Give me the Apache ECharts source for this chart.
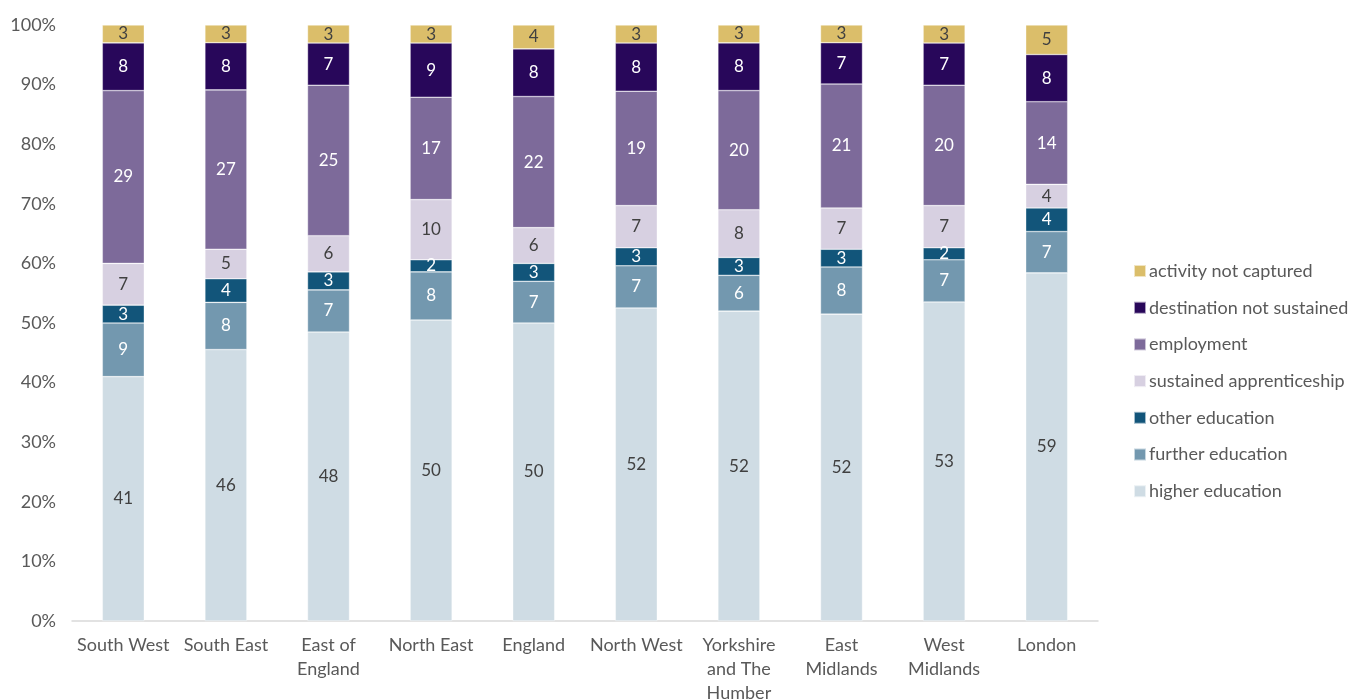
<!DOCTYPE html>
<html>
<head>
<meta charset="utf-8">
<script src="https://cdn.jsdelivr.net/npm/echarts@6/dist/echarts.min.js"></script>
<style>
  html, body { margin: 0; padding: 0; background: #fff; }
  #chart { width: 1351px; height: 700px; }
</style>
</head>
<body>
<div id="chart"></div>
<script>
// Regions, in display order
const regions = ['South West', 'South East', 'East of\nEngland', 'North East', 'England',
  'North West', 'Yorkshire\nand The\nHumber', 'East\nMidlands', 'West\nMidlands', 'London'];

// Destination shares (%), one array per destination
const higherEducation        = [41, 46, 48, 50, 50, 52, 52, 52, 53, 59];
const furtherEducation       = [9, 8, 7, 8, 7, 7, 6, 8, 7, 7];
const otherEducation         = [3, 4, 3, 2, 3, 3, 3, 3, 2, 4];
const sustainedApprenticeship = [7, 5, 6, 10, 6, 7, 8, 7, 7, 4];
const employment             = [29, 27, 25, 17, 22, 19, 20, 21, 20, 14];
const destinationNotSustained = [8, 8, 7, 9, 8, 8, 8, 7, 7, 8];
const activityNotCaptured    = [3, 3, 3, 3, 4, 3, 3, 3, 3, 5];

// Y axis tick labels
const yTicks = ['0%', '10%', '20%', '30%', '40%', '50%', '60%', '70%', '80%', '90%', '100%'];

const FONT = 'Lato, "Liberation Sans", sans-serif';

const layers = [
  { name: 'higher education', data: higherEducation, color: '#CFDCE4', text: '#404040' },
  { name: 'further education', data: furtherEducation, color: '#7398AF', text: '#ffffff' },
  { name: 'other education', data: otherEducation, color: '#12557A', text: '#ffffff' },
  { name: 'sustained apprenticeship', data: sustainedApprenticeship, color: '#D7D0E1', text: '#404040' },
  { name: 'employment', data: employment, color: '#7D6A9A', text: '#ffffff' },
  { name: 'destination not sustained', data: destinationNotSustained, color: '#28075A', text: '#ffffff' },
  { name: 'activity not captured', data: activityNotCaptured, color: '#DBBE6A', text: '#404040' }
];

// Each column is drawn as a 100% stack: totals per region
const totals = regions.map((_, i) => layers.reduce((s, l) => s + l.data[i], 0));

const series = layers.map(l => ({
  name: l.name,
  type: 'bar',
  stack: 'total',
  barWidth: 42,
  itemStyle: { color: l.color, borderColor: 'rgba(255,255,255,0.6)', borderWidth: 0.6 },
  label: {
    show: true,
    position: 'inside',
    color: l.text,
    fontFamily: FONT,
    fontSize: 17,
    formatter: p => String(l.data[p.dataIndex])
  },
  emphasis: { disabled: true },
  data: l.data.map((v, i) => v / totals[i] * 100)
}));

const chart = echarts.init(document.getElementById('chart'));
chart.setOption({
  animation: false,
  textStyle: { fontFamily: FONT },
  grid: { left: 72, right: 253, top: 25, bottom: 79, containLabel: false, outerBoundsMode: 'none' },
  legend: {
    orient: 'vertical',
    left: 1128,
    top: 257,
    icon: 'rect',
    itemWidth: 12,
    itemHeight: 12,
    itemGap: 18.7,
    data: layers.map(l => l.name).reverse(),
    textStyle: { color: '#595959', fontSize: 18, lineHeight: 18, fontFamily: FONT, padding: [0, 0, 0, -2] },
    selectedMode: false
  },
  xAxis: {
    type: 'category',
    data: regions,
    axisLine: { lineStyle: { color: '#D9D9D9', width: 1.5 } },
    axisTick: { show: false },
    axisLabel: { color: '#595959', fontSize: 18, fontFamily: FONT, lineHeight: 24, margin: 12, interval: 0 }
  },
  yAxis: {
    type: 'value',
    min: 0,
    max: 100,
    interval: 10,
    splitLine: { show: false },
    axisLine: { show: false },
    axisTick: { show: false },
    axisLabel: {
      color: '#595959', fontSize: 18, fontFamily: FONT, margin: 16,
      formatter: v => yTicks[Math.round(v / 10)]
    }
  },
  series
});
</script>
</body>
</html>
